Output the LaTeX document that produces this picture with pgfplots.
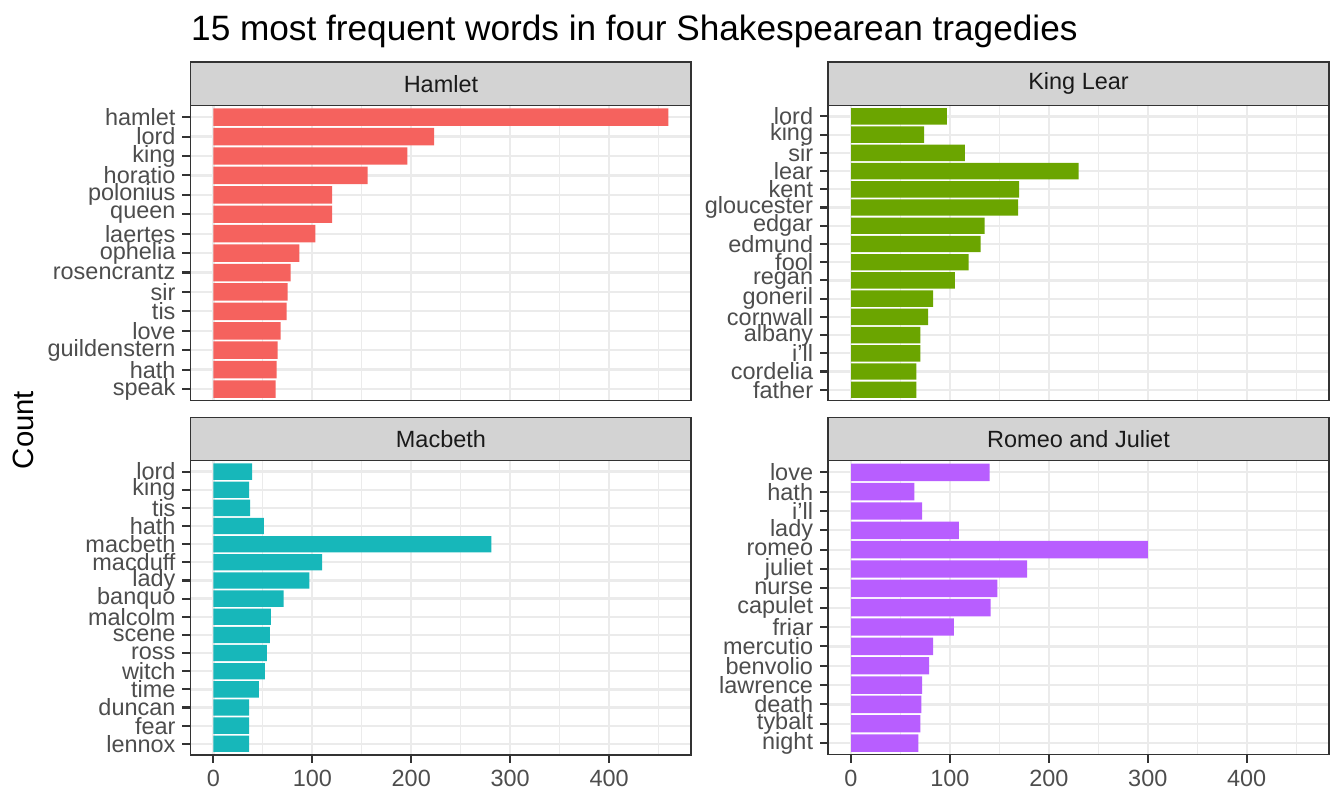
\documentclass[border=0pt]{standalone}
\usepackage{fontspec}
\setmainfont{Liberation Sans}
\usepackage{pgfplots}
\usepackage{pgfplotstable}
\pgfplotsset{compat=1.18}
\definecolor{grey10}{HTML}{1A1A1A}
\definecolor{grey20}{HTML}{333333}
\definecolor{grey30}{HTML}{4D4D4D}
\definecolor{gridc}{HTML}{EBEBEB}
\definecolor{stripc}{HTML}{D3D3D3}
\definecolor{cham}{HTML}{F5625E}
\definecolor{clear}{HTML}{6BA500}
\definecolor{cmac}{HTML}{17B7BA}
\definecolor{crom}{HTML}{B85EFF}

\pgfplotstableread{
idx word count
1 hamlet 460
2 lord 223
3 king 196
4 horatio 156
5 polonius 120
6 queen 120
7 laertes 103
8 ophelia 87
9 rosencrantz 78
10 sir 75
11 tis 74
12 love 68
13 guildenstern 65
14 hath 64
15 speak 63
}\hamlet

\pgfplotstableread{
idx word count
1 lord 97
2 king 74
3 sir 115
4 lear 230
5 kent 170
6 gloucester 169
7 edgar 135
8 edmund 131
9 fool 119
10 regan 105
11 goneril 83
12 cornwall 78
13 albany 70
14 i’ll 70
15 cordelia 66
16 father 66
}\lear

\pgfplotstableread{
idx word count
1 lord 39
2 king 36
3 tis 37
4 hath 51
5 macbeth 281
6 macduff 110
7 lady 97
8 banquo 71
9 malcolm 58
10 scene 57
11 ross 54
12 witch 52
13 time 46
14 duncan 36
15 fear 36
16 lennox 36
}\macbeth

\pgfplotstableread{
idx word count
1 love 140
2 hath 64
3 i’ll 72
4 lady 109
5 romeo 300
6 juliet 178
7 nurse 148
8 capulet 141
9 friar 104
10 mercutio 83
11 benvolio 79
12 lawrence 72
13 death 71
14 tybalt 70
15 night 68
}\romeo

\pgfplotsset{
  panel/.style={
    scale only axis,
    width=187.7pt,
    xmin=-23, xmax=483,
    y dir=reverse,
    xbar, bar width=0.9, bar shift=0pt,
    axis line style={draw=grey20, line width=0.6pt},
    xtick={0,100,200,300,400},
    minor xtick={50,150,250,350,450},
    ytick=data,
    xmajorgrids, xminorgrids, ymajorgrids,
    major grid style={draw=gridc, line width=0.85pt},
    minor grid style={draw=gridc, line width=0.42pt},
    tick align=outside,
    major tick length=3.1pt, minor tick length=0pt,
    tick style={draw=grey20, line width=0.8pt},
    xtick pos=bottom, ytick pos=left,
    ticklabel style={font=\fontsize{8.8}{9}\selectfont, text=grey30},
    yticklabel style={anchor=east, inner sep=0pt, xshift=-2.4pt},
    xticklabel style={anchor=north, inner sep=0pt, yshift=-2.4pt},
    /pgf/number format/assume math mode=true,
  },
  toppanel/.style={panel, height=110.7pt, xticklabels={}, xtick style={draw=none}},
  botpanel/.style={panel, height=110.25pt},
}

\begin{document}
\begin{tikzpicture}
\useasboundingbox (0,0) rectangle (504pt,-302.25pt);

\node[anchor=base west, inner sep=0pt, font=\fontsize{13.2}{14}\selectfont] at (71.5pt,-15.26pt) {15 most frequent words in four Shakespearean tragedies};
\node[anchor=base, rotate=90, font=\fontsize{11}{12}\selectfont] at (12.4pt,-161.25pt) {Count};

% Hamlet
\begin{axis}[toppanel, at={(71.5pt,-39.56pt)}, anchor=north west,
  ymin=0.4, ymax=15.6, yticklabels from table={\hamlet}{word}]
  \addplot[fill=cham, draw=none] table[x=count, y=idx]{\hamlet};
\end{axis}
% King Lear
\begin{axis}[toppanel, at={(310.6pt,-39.56pt)}, anchor=north west,
  ymin=0.4, ymax=16.6, yticklabels from table={\lear}{word}]
  \addplot[fill=clear, draw=none] table[x=count, y=idx]{\lear};
\end{axis}
% Macbeth
\begin{axis}[botpanel, at={(71.5pt,-172.76pt)}, anchor=north west,
  ymin=0.4, ymax=16.6, yticklabels from table={\macbeth}{word}]
  \addplot[fill=cmac, draw=none] table[x=count, y=idx]{\macbeth};
\end{axis}
% Romeo and Juliet
\begin{axis}[botpanel, at={(310.6pt,-172.76pt)}, anchor=north west,
  ymin=0.4, ymax=15.6, yticklabels from table={\romeo}{word}]
  \addplot[fill=crom, draw=none] table[x=count, y=idx]{\romeo};
\end{axis}

% strips
\begin{scope}[every node/.style={font=\fontsize{8.8}{9}\selectfont, text=grey10}]
\draw[fill=stripc, draw=grey20, line width=0.6pt] (71.5pt,-23.36pt) rectangle (259.2pt,-39.56pt);
\node at (165.35pt,-31.46pt) {Hamlet};
\draw[fill=stripc, draw=grey20, line width=0.6pt] (310.6pt,-23.36pt) rectangle (498.3pt,-39.56pt);
\node at (404.45pt,-31.46pt) {King Lear};
\draw[fill=stripc, draw=grey20, line width=0.6pt] (71.5pt,-156.5pt) rectangle (259.2pt,-172.76pt);
\node at (165.35pt,-164.63pt) {Macbeth};
\draw[fill=stripc, draw=grey20, line width=0.6pt] (310.6pt,-156.5pt) rectangle (498.3pt,-172.76pt);
\node at (404.45pt,-164.63pt) {Romeo and Juliet};
\end{scope}
\end{tikzpicture}
\end{document}
